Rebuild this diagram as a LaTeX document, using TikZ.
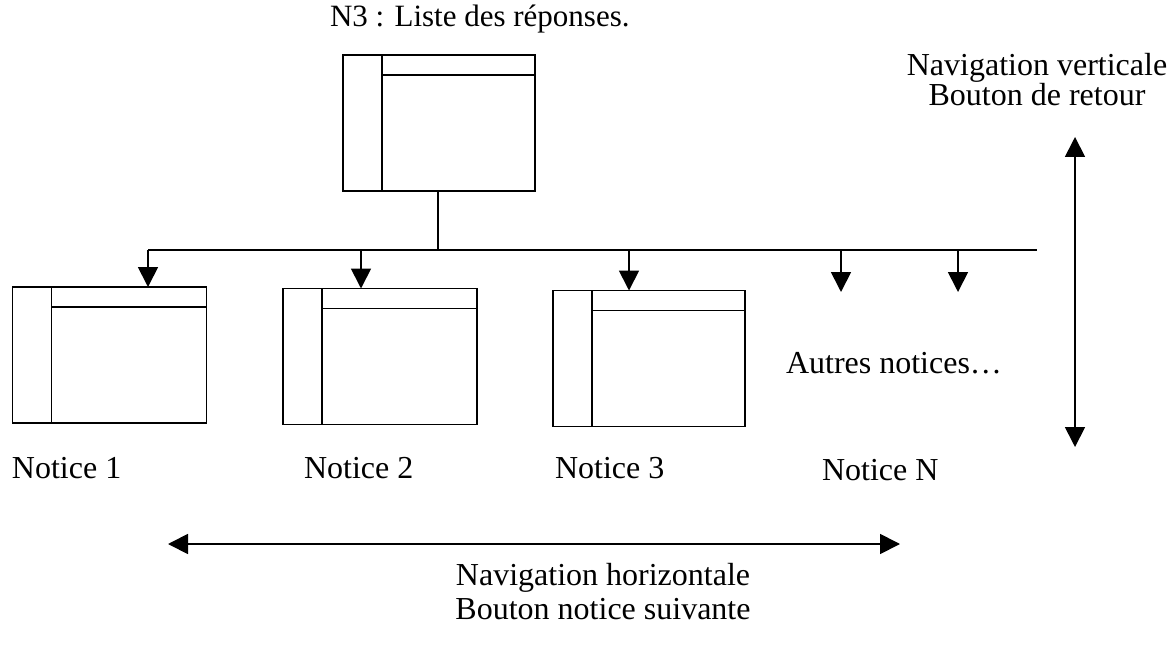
\documentclass[tikz,border=0pt]{standalone}
\usepackage{fontspec}
\setmainfont{Liberation Serif}
\usetikzlibrary{arrows.meta}
\begin{document}
\begin{tikzpicture}[x=1pt,y=-1pt,
  lw/.style={line width=1.8pt},
  win/.style={lw, draw, inner sep=0pt, outer sep=0pt, minimum width=194pt, minimum height=136pt,
    path picture={
      \draw[line width=1.8pt] ([xshift=39pt]path picture bounding box.north west) -- ([xshift=39pt]path picture bounding box.south west);
      \draw[line width=1.8pt] ([xshift=39pt,yshift=-20pt]path picture bounding box.north west) -- ([yshift=-20pt]path picture bounding box.north east);
    }},
  lbl/.style={font=\fontsize{32}{32}\selectfont, inner sep=0pt, outer sep=0pt},
  arr/.style={lw, -{Triangle[length=20pt,width=20pt]}},
  dbl/.style={lw, {Triangle[length=20pt,width=20pt]}-{Triangle[length=20pt,width=20pt]}}
]
\useasboundingbox (0,0) rectangle (1172,647);

% windows
\node[win, minimum width=192pt] (top) at (439,123) {};
\node[win] (n1) at (109.5,355) {};
\node[win] (n2) at (380,356.5) {};
\node[win, minimum width=192pt] (n3) at (649,358.5) {};

% bus
\coordinate (busL) at (148,250);
\coordinate (busR) at (1037,250);
\coordinate (a2) at (361,250);
\coordinate (a3) at (629,250);
\coordinate (a4) at (841,250);
\coordinate (a5) at (958,250);
\coordinate (e4) at (841,292);
\coordinate (e5) at (958,292);
\draw[lw] (busL) -- (busR);
\draw[lw] (top.south -| 438,0) -- (438,250);
\draw[arr] (busL) -- (busL |- n1.north);
\draw[arr] (a2) -- (a2 |- n2.north);
\draw[arr] (a3) -- (a3 |- n3.north);
\draw[arr] (a4) -- (e4);
\draw[arr] (a5) -- (e5);

% navigation arrows
\coordinate (vT) at (1075,137);
\coordinate (vB) at (1075,447);
\draw[dbl] (vT) -- (vB);
\coordinate (hL) at (168,544);
\coordinate (hR) at (900,544);
\draw[dbl] (hL) -- (hR);

% texts
\node[lbl, font=\fontsize{31}{31}\selectfont, anchor=base west] (t0) at (330,27) {N3 : Liste des réponses.};
\node[lbl, anchor=base] (tv1) at (1037,76) {Navigation verticale};
\node[lbl, anchor=base] (tv2) at (1037,106) {Bouton de retour};
\node[lbl, anchor=base west] (tn1) at (12,478) {Notice 1};
\node[lbl, anchor=base west] (tn2) at (304,478) {Notice 2};
\node[lbl, anchor=base west] (tn3) at (555,478) {Notice 3};
\node[lbl, anchor=base west] (tnN) at (822,480) {Notice N};
\node[lbl, anchor=base west] (tau) at (786,373) {Autres notices\ldots};
\node[lbl, anchor=base] (th1) at (603,585) {Navigation horizontale};
\node[lbl, anchor=base] (th2) at (603,619) {Bouton notice suivante};
\end{tikzpicture}
\end{document}
